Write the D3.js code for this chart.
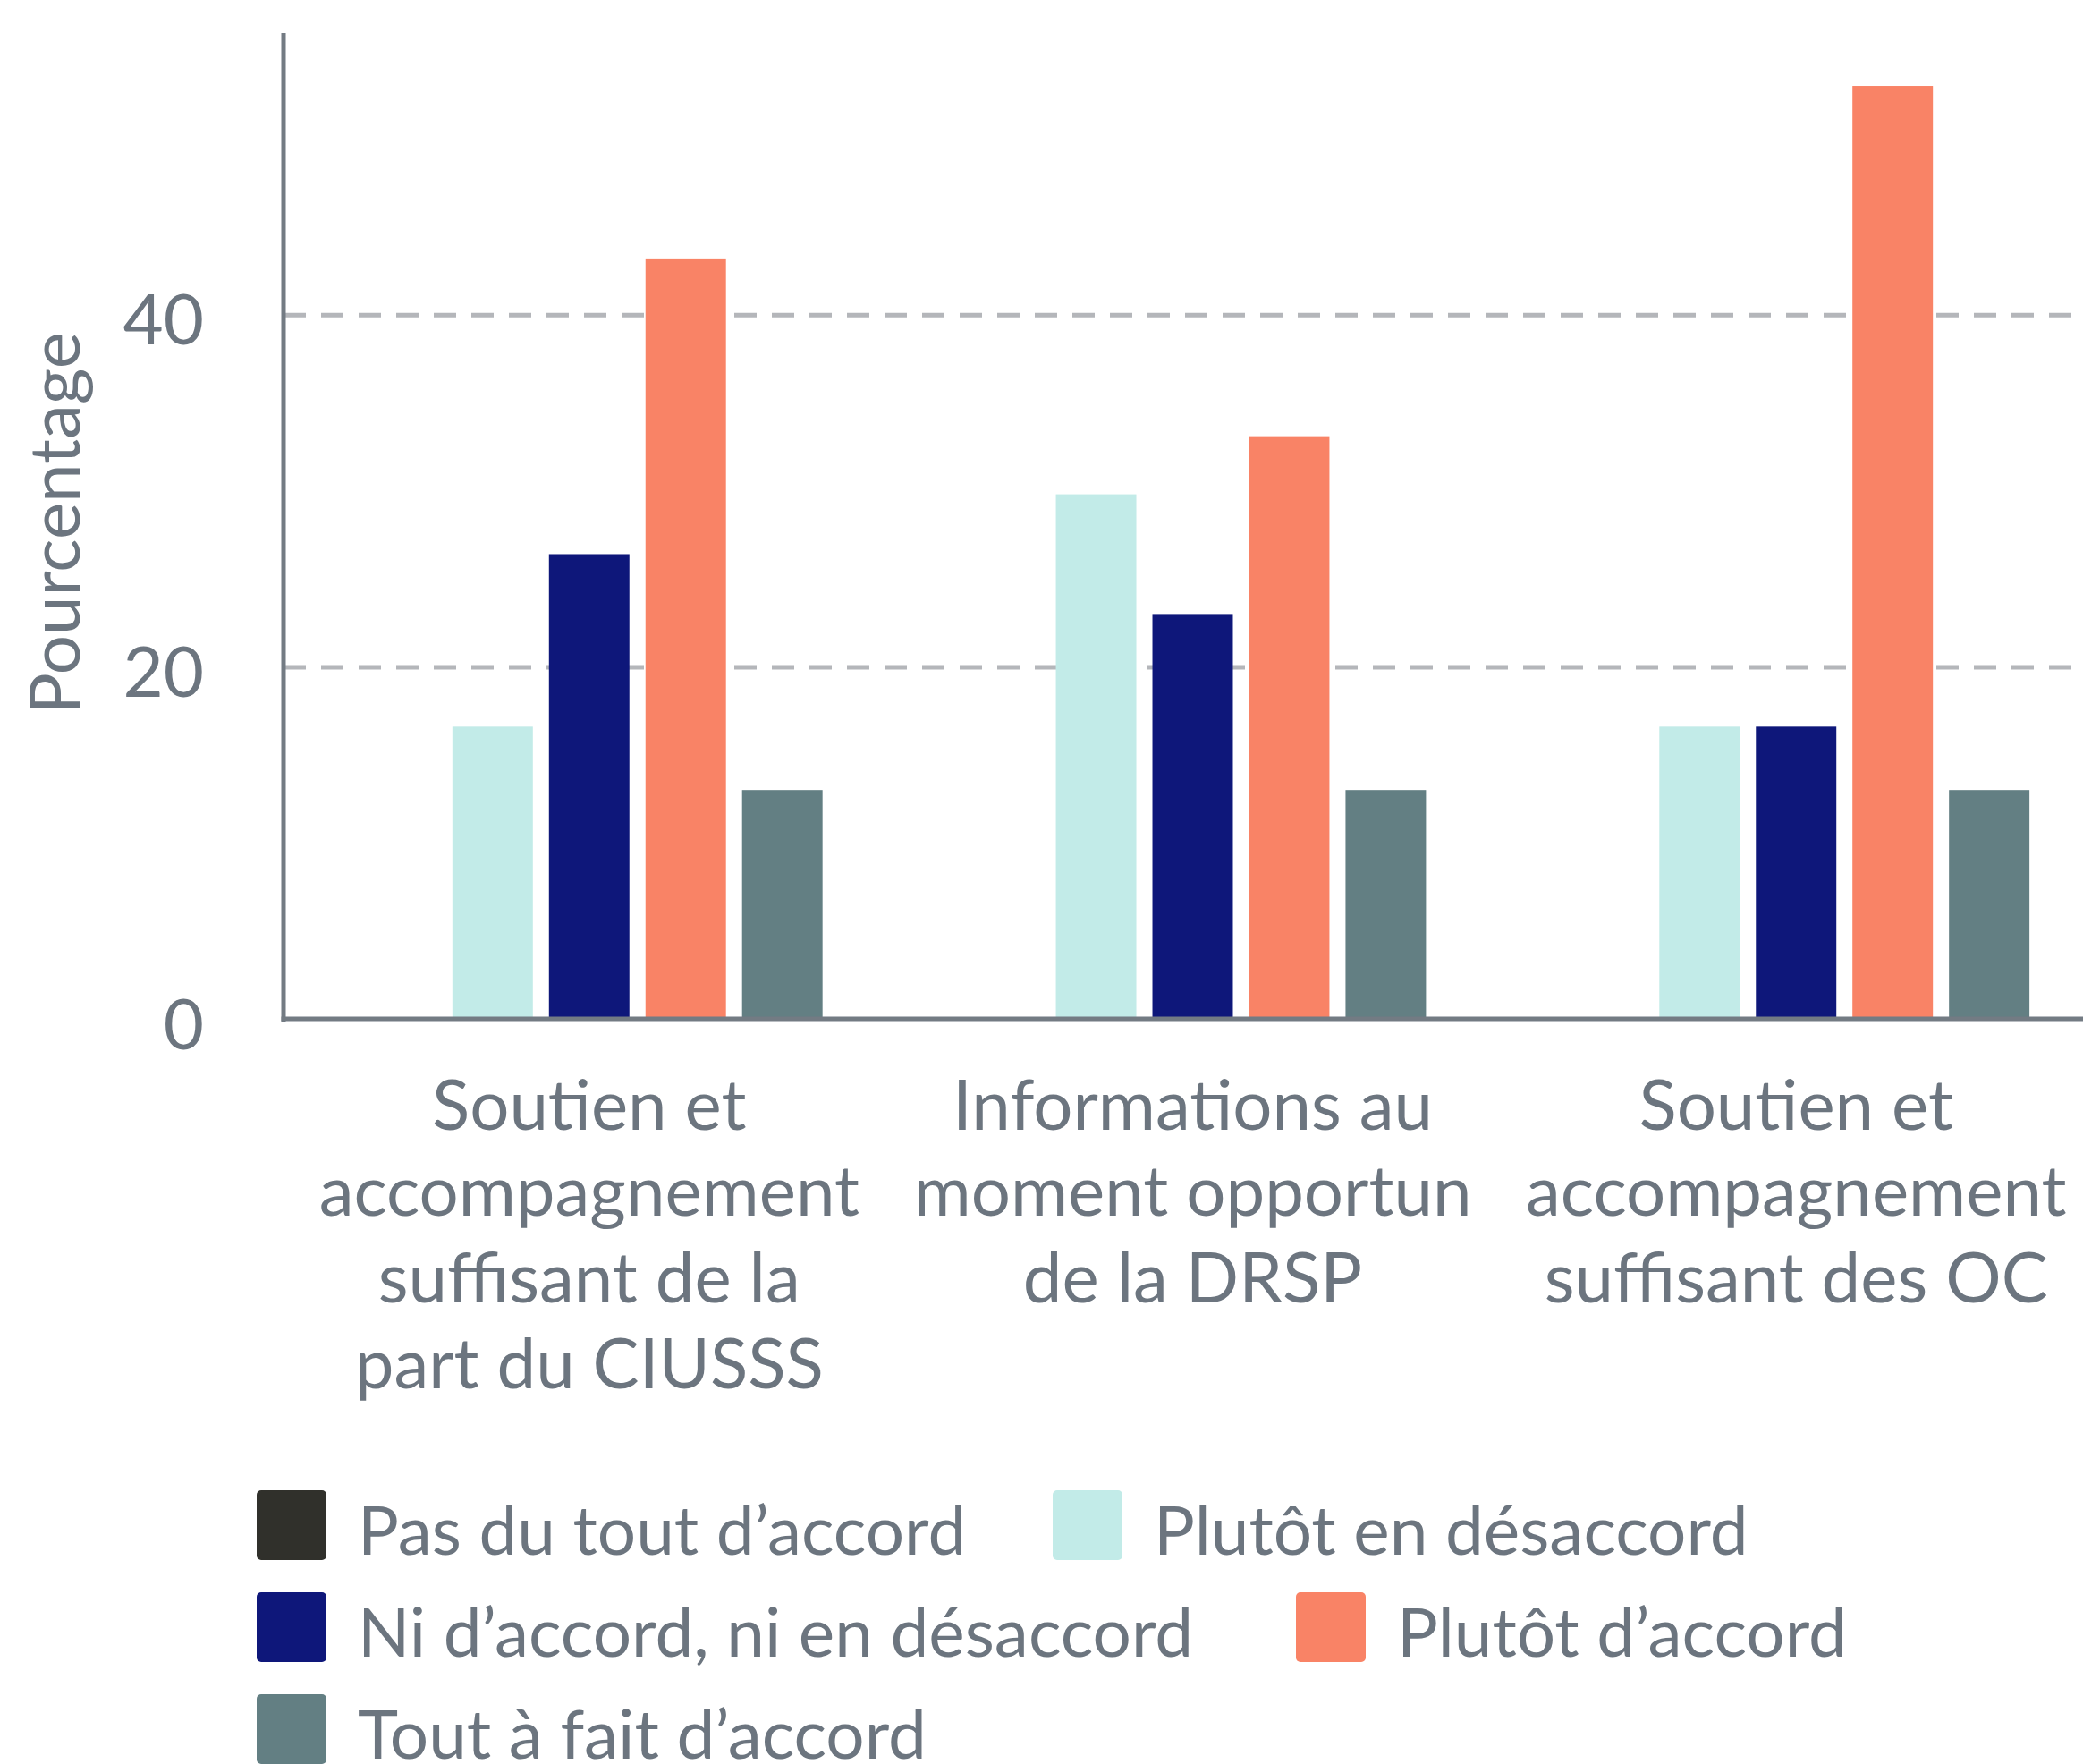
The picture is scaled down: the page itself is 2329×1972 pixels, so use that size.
<!DOCTYPE html>
<html>
<head>
<meta charset="utf-8">
<script src="https://cdn.jsdelivr.net/npm/d3@7"></script>
<style>
  html, body { margin: 0; padding: 0; background: #fff; overflow: hidden; }
  text { font-family: Lato, "Open Sans", sans-serif; fill: #6c757f; }
</style>
</head>
<body>
<script>
// data
var categories = ["cat1", "cat2", "cat3"];
var categoryLines = [
  ["Soutien et", "accompagnement", "suffisant de la", "part du CIUSSS"],
  ["Informations au", "moment opportun", "de la DRSP"],
  ["Soutien et", "accompagnement", "suffisant des OC"]
];
var series = ["Pas du tout d’accord", "Plutôt en désaccord", "Ni d’accord, ni en désaccord", "Plutôt d’accord", "Tout à fait d’accord"];
var seriesColors = ["#30302b", "#c2ebe8", "#0e177a", "#f98366", "#637f83"];
// % per category, in series order
var pasDuTout = [0, 0, 0];
var plutotDesaccord = [16.6, 29.8, 16.6];
var niNi = [26.4, 23.0, 16.6];
var plutotAccord = [43.2, 33.1, 53.0];
var toutAFait = [13.0, 13.0, 13.0];
var yTicks = [0, 20, 40];
var gridTicks = [20, 40];

var allValues = [pasDuTout, plutotDesaccord, niNi, plutotAccord, toutAFait];

var width = 2329, height = 1972;
var axisX = 317, baseY = 1139;

var svg = d3.select("body").append("svg")
  .attr("width", width)
  .attr("height", height);

var x0 = d3.scaleBand()
  .domain(categories)
  .range([321.4, 2345.6])
  .paddingInner(0.2)
  .paddingOuter(0.1);

var x1 = d3.scaleBand()
  .domain(series)
  .range([0, x0.bandwidth()])
  .paddingInner(0.1667)
  .paddingOuter(0.0833);

var y = d3.scaleLinear()
  .domain([0, 56])
  .range([baseY, 37]);

// dashed grid
var grid = svg.append("g")
  .attr("transform", "translate(" + axisX + ",0)")
  .call(d3.axisRight(y).tickValues(gridTicks).tickSize(width - axisX).tickFormat(""));
grid.select(".domain").remove();
grid.selectAll("line")
  .style("stroke", "#b4b6ba")
  .style("stroke-width", 5)
  .style("stroke-dasharray", "25,17");

// bars
var groups = svg.append("g").selectAll("g")
  .data(categories)
  .enter().append("g")
  .attr("transform", function(d) { return "translate(" + x0(d) + ",0)"; });

groups.selectAll("rect")
  .data(function(d, i) {
    return series.map(function(s, j) { return {key: s, value: allValues[j][i], color: seriesColors[j]}; });
  })
  .enter().append("rect")
  .attr("x", function(d) { return x1(d.key); })
  .attr("width", x1.bandwidth())
  .attr("y", function(d) { return y(d.value); })
  .attr("height", function(d) { return y(0) - y(d.value); })
  .style("fill", function(d) { return d.color; });

// y axis
var yAxis = svg.append("g")
  .attr("transform", "translate(" + axisX + ",0)")
  .call(d3.axisLeft(y).tickValues(yTicks).tickSize(0).tickPadding(89));
yAxis.select(".domain").remove();
yAxis.selectAll("text")
  .attr("dy", null)
  .attr("y", 33)
  .style("font-size", "78px")
  .style("font-family", "Lato")
  .style("fill", "#6c757f");

svg.append("line")
  .attr("x1", axisX).attr("x2", axisX)
  .attr("y1", y(56)).attr("y2", baseY + 3)
  .style("stroke", "#737b83")
  .style("stroke-width", 5);

svg.append("line")
  .attr("x1", axisX - 2.5).attr("x2", width)
  .attr("y1", baseY).attr("y2", baseY)
  .style("stroke", "#737b83")
  .style("stroke-width", 5);

svg.append("text")
  .attr("transform", "translate(89,585) rotate(-90)")
  .attr("text-anchor", "middle")
  .style("font-size", "78px")
  .text("Pourcentage");

// category labels
var catLabels = svg.append("g").selectAll("text")
  .data(categories)
  .enter().append("text")
  .attr("text-anchor", "middle")
  .style("font-size", "78px")
  .attr("transform", function(d) { return "translate(" + (x0(d) + x0.bandwidth() / 2) + ",1262.5)"; });

catLabels.selectAll("tspan")
  .data(function(d, i) { return categoryLines[i]; })
  .enter().append("tspan")
  .attr("x", 0)
  .attr("y", function(d, i) { return i * 96.5; })
  .text(function(d) { return d; });

// legend (item positions as laid out in the original)
var legendPos = [[287, 1738], [1177, 1738], [287, 1852], [1449, 1852], [287, 1966]];
var legend = svg.append("g").selectAll("g")
  .data(series)
  .enter().append("g")
  .attr("transform", function(d, j) { return "translate(" + legendPos[j][0] + "," + legendPos[j][1] + ")"; });

legend.append("rect")
  .attr("width", 78).attr("height", 78)
  .attr("rx", 5)
  .attr("y", -72)
  .style("fill", function(d, j) { return seriesColors[j]; });

legend.append("text")
  .attr("x", 113)
  .style("font-size", "76.5px")
  .text(function(d) { return d; });
</script>
</body>
</html>
